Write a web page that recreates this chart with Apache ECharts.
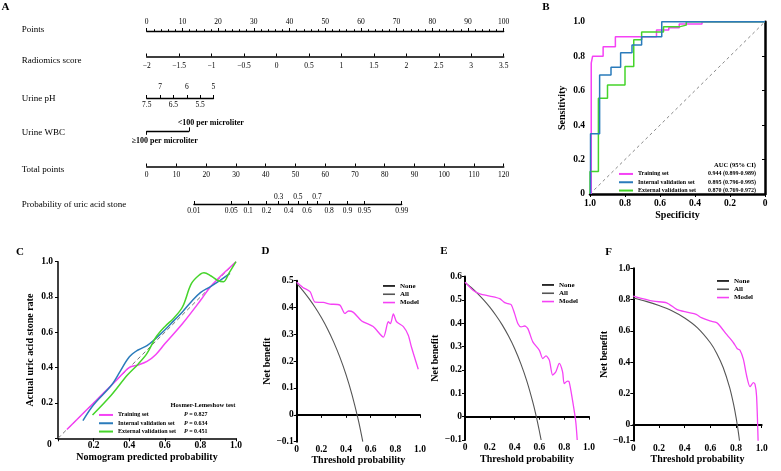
<!DOCTYPE html>
<html><head><meta charset="utf-8">
<script src="https://cdn.jsdelivr.net/npm/echarts@6/dist/echarts.min.js"></script>
<style>html,body{margin:0;padding:0;background:#fff}#c{width:781px;height:471px}</style>
</head><body><div id="c"></div>
<script>
// ---------- Panel A: nomogram ----------
const nomoRows = ['Points','Radiomics score','Urine pH','Urine WBC','Total points','Probability of uric acid stone'];
const pointsRange = [0, 100];
const radiomicsRange = [-2, 3.5];
const phValues = [7.5, 7, 6.5, 6, 5.5, 5];
const phTopLabels = [7, 6, 5];
const phBottomLabels = [7.5, 6.5, 5.5];
const phMaxPoints = 18.7;          // points given to pH 5
const wbcLevels = ['≥100 per microliter', '<100 per microliter'];
const wbcPoints = [0, 11.8];
const totalPointsRange = [0, 120];
const probTicks = [0.01,0.05,0.1,0.2,0.3,0.4,0.5,0.6,0.7,0.8,0.9,0.95,0.99];
const probTopLabels = [0.3,0.5,0.7];
const probIntercept = 50.8;        // total points where p = 0.5
const probSlope = 7.6;             // total points per logit unit

// ---------- Panel B: ROC ----------
const rocNames = ['Training set','Internal validation set','External validation set'];
const rocAUC = ['0.944 (0.899-0.989)','0.895 (0.796-0.995)','0.870 (0.769-0.972)'];
const rocTraining = [[0.993,0],[0.993,0.76],[0.985,0.76],[0.985,0.80],[0.925,0.80],[0.925,0.855],[0.855,0.855],[0.855,0.913],[0.62,0.913],[0.62,0.952],[0.55,0.952],[0.55,0.965],[0.49,0.965],[0.49,0.987],[0.36,0.987],[0.36,1],[0,1]];
const rocInternal = [[0.997,0],[0.997,0.35],[0.945,0.35],[0.945,0.69],[0.88,0.69],[0.88,0.735],[0.825,0.735],[0.825,0.82],[0.76,0.82],[0.76,0.865],[0.705,0.865],[0.705,0.913],[0.59,0.913],[0.59,1],[0,1]];
const rocExternal = [[1,0],[1,0.13],[0.952,0.13],[0.952,0.556],[0.90,0.556],[0.90,0.633],[0.80,0.633],[0.80,0.74],[0.75,0.74],[0.75,0.895],[0.705,0.895],[0.705,0.94],[0.58,0.94],[0.58,0.97],[0.49,0.97],[0.49,0.98],[0.45,0.98],[0.45,1],[0,1]];
const rocDiagonal = [[1,0],[0,1]];

// ---------- Panel C: calibration ----------
const calPValues = ['0.827','0.634','0.451'];
const calTraining = [[0.05,0.05],[0.15,0.15],[0.25,0.25],[0.33,0.33],[0.4,0.4],[0.45,0.415],[0.5,0.435],[0.55,0.475],[0.6,0.535],[0.7,0.65],[0.8,0.78],[0.85,0.85],[0.9,0.905],[1.0,1.0]];
const calInternal = [[0.14,0.1],[0.2,0.19],[0.3,0.3],[0.35,0.38],[0.4,0.46],[0.45,0.5],[0.5,0.525],[0.55,0.566],[0.6,0.613],[0.65,0.665],[0.7,0.717],[0.75,0.775],[0.8,0.825],[0.85,0.855],[0.9,0.887],[0.966,0.934]];
const calExternal = [[0.194,0.132],[0.3,0.245],[0.39,0.358],[0.45,0.42],[0.5,0.481],[0.55,0.572],[0.6,0.632],[0.65,0.68],[0.7,0.745],[0.75,0.877],[0.8,0.93],[0.82,0.938],[0.86,0.919],[0.9,0.892],[0.93,0.887],[0.96,0.934],[1.0,1.0]];
const calDiagonal = [[0,0],[1,1]];

// ---------- Panels D, E, F: decision curves ----------
const dcaNames = ['None','All','Model'];
const dcaNone = [[0,0],[1,0]];
const dcaDAll = [[0,0.49],[0.05,0.463],[0.1,0.433],[0.15,0.40],[0.2,0.3625],[0.25,0.32],[0.3,0.271],[0.35,0.215],[0.4,0.15],[0.45,0.073],[0.5,-0.02],[0.536,-0.1]];
const dcaDModel = [[0,0.494],[0.05,0.475],[0.108,0.459],[0.149,0.42],[0.216,0.419],[0.27,0.413],[0.35,0.409],[0.39,0.378],[0.42,0.387],[0.46,0.382],[0.527,0.35],[0.62,0.329],[0.703,0.29],[0.743,0.347],[0.76,0.34],[0.784,0.376],[0.81,0.347],[0.865,0.329],[0.905,0.297],[0.93,0.254],[0.986,0.17]];
const dcaEAll = [[0,0.575],[0.05,0.553],[0.1,0.528],[0.15,0.50],[0.2,0.469],[0.25,0.433],[0.3,0.393],[0.35,0.346],[0.4,0.292],[0.45,0.227],[0.5,0.15],[0.55,0.056],[0.575,0],[0.6,-0.0625],[0.614,-0.1]];
const dcaEModel = [[0,0.576],[0.067,0.54],[0.12,0.526],[0.2,0.516],[0.28,0.505],[0.32,0.488],[0.347,0.484],[0.373,0.479],[0.4,0.441],[0.427,0.398],[0.453,0.384],[0.48,0.388],[0.507,0.377],[0.547,0.32],[0.6,0.284],[0.627,0.249],[0.653,0.26],[0.68,0.242],[0.707,0.178],[0.733,0.192],[0.76,0.228],[0.787,0.192],[0.8,0.142],[0.827,0.152],[0.84,0.149],[0.867,0.071],[0.893,-0.021],[0.905,-0.1]];
const dcaFAll = [[0,0.81],[0.1,0.789],[0.2,0.7625],[0.3,0.729],[0.4,0.683],[0.5,0.62],[0.6,0.525],[0.65,0.457],[0.7,0.367],[0.75,0.24],[0.78,0.136],[0.8,0.05],[0.81,0],[0.82,-0.056],[0.827,-0.1]];
const dcaFModel = [[0,0.823],[0.156,0.79],[0.26,0.78],[0.338,0.738],[0.416,0.72],[0.49,0.706],[0.53,0.685],[0.597,0.664],[0.649,0.653],[0.675,0.632],[0.727,0.578],[0.78,0.525],[0.81,0.487],[0.83,0.479],[0.857,0.42],[0.883,0.313],[0.909,0.245],[0.935,0.27],[0.948,0.26],[0.96,0.185],[0.972,-0.1]];
const dcaDTicks = [-0.1,0,0.1,0.2,0.3,0.4,0.5];
const dcaETicks = [-0.1,0,0.1,0.2,0.3,0.4,0.5,0.6];
const dcaFTicks = [-0.1,0,0.2,0.4,0.6,0.8,1.0];

// ================= build =================
const FONT = 'Liberation Serif';
const C_MAG = '#f542f5', C_BLUE = '#2a7bbb', C_GREEN = '#45d42a', C_GRAY = '#555555';
const grids = [], xAxes = [], yAxes = [], series = [], legends = [], graphics = [];
function addGrid(g, hiddenY) {
  grids.push(g); const gi = grids.length - 1;
  if (hiddenY) yAxes.push({gridIndex: gi, type: 'value', show: false, min: 0, max: 1});
  return gi;
}
const logit = p => Math.log(p / (1 - p));
const tp = p => probIntercept + probSlope * logit(p);
const nearest = (arr, v, f) => { let b = 0; arr.forEach((a, i) => { if (Math.abs(f(a) - v) < Math.abs(f(arr[b]) - v)) b = i; }); return arr[b]; };
const minus = v => (v < 0 ? '−' : '') + Math.abs(v);
const fmt1 = v => Math.abs(v) < 1e-9 ? '0' : (v < 0 ? '−' : '') + Math.abs(v).toFixed(1);

const NL = 146.7, NW = 357;
const nLbl = {fontFamily: FONT, fontSize: 7.5, color: '#000'};
const nLine = {show: true, lineStyle: {color: '#000', width: 1.3}};
const tickStyle = {color: '#000', width: 1};
const noSplit = {show: false};

// Points
let gi = addGrid({left: NL, top: 30, width: NW * (pointsRange[1] - pointsRange[0]) / 100, height: 1}, true);
xAxes.push({gridIndex: gi, type: 'value', position: 'top', min: pointsRange[0], max: pointsRange[1], interval: 10,
  axisLine: nLine, axisTick: {show: true, length: 3, lineStyle: tickStyle},
  minorTick: {show: true, splitNumber: 5, length: 1.8, lineStyle: tickStyle},
  axisLabel: Object.assign({margin: 4}, nLbl), splitLine: noSplit, minorSplitLine: noSplit});
// Radiomics score
gi = addGrid({left: NL, top: 55.5, width: NW, height: 1}, true);
xAxes.push({gridIndex: gi, type: 'value', position: 'bottom', min: radiomicsRange[0], max: radiomicsRange[1], interval: 0.5,
  axisLine: {show: true, lineStyle: {color: '#000', width: 1.6}}, axisTick: {show: true, inside: true, length: 3, lineStyle: tickStyle},
  axisLabel: Object.assign({margin: 6, formatter: minus}, nLbl), splitLine: noSplit});
// Urine pH
gi = addGrid({left: NL, top: 97, width: NW * phMaxPoints / 100, height: 1}, true);
xAxes.push({gridIndex: gi, type: 'value', position: 'top', inverse: true, min: Math.min(...phValues), max: Math.max(...phValues),
  axisLine: nLine, axisTick: {show: true, length: 3, lineStyle: tickStyle, customValues: phValues},
  axisLabel: Object.assign({margin: 6, customValues: phTopLabels, formatter: v => String(v)}, nLbl), splitLine: noSplit});
xAxes.push({gridIndex: gi, type: 'value', position: 'bottom', inverse: true, min: Math.min(...phValues), max: Math.max(...phValues),
  axisLine: {show: false}, axisTick: {show: false},
  axisLabel: Object.assign({margin: 3, customValues: phBottomLabels, formatter: v => String(v)}, nLbl), splitLine: noSplit});
// Urine WBC
const wbcLbl = {fontFamily: FONT, fontSize: 8, fontWeight: 'bold', color: '#000'};
gi = addGrid({left: NL, top: 130.3, width: NW * wbcPoints[1] / 100, height: 1}, true);
xAxes.push({gridIndex: gi, type: 'value', position: 'top', min: wbcPoints[0], max: wbcPoints[1],
  axisLine: nLine, axisTick: {show: true, length: 4, lineStyle: tickStyle, customValues: [wbcPoints[1]]},
  axisLabel: Object.assign({margin: 3, customValues: [wbcPoints[1]], padding: [0, 0, 0, 44],
    formatter: v => wbcLevels[wbcPoints.indexOf(nearest(wbcPoints, v, a => a))]}, wbcLbl), splitLine: noSplit});
xAxes.push({gridIndex: gi, type: 'value', position: 'bottom', min: wbcPoints[0], max: wbcPoints[1],
  axisLine: {show: false}, axisTick: {show: true, length: 3.5, lineStyle: tickStyle, customValues: [wbcPoints[0]]},
  axisLabel: Object.assign({margin: 6, customValues: [wbcPoints[0]], padding: [0, 0, 0, 36],
    formatter: v => wbcLevels[wbcPoints.indexOf(nearest(wbcPoints, v, a => a))]}, wbcLbl), splitLine: noSplit});
// Total points
gi = addGrid({left: NL, top: 165.5, width: NW, height: 1}, true);
xAxes.push({gridIndex: gi, type: 'value', position: 'bottom', min: totalPointsRange[0], max: totalPointsRange[1], interval: 10,
  axisLine: {show: true, lineStyle: {color: '#000', width: 1.6}}, axisTick: {show: true, inside: true, length: 3, lineStyle: tickStyle},
  axisLabel: Object.assign({margin: 5}, nLbl), splitLine: noSplit});
// Probability
const pLo = probTicks[0], pHi = probTicks[probTicks.length - 1];
gi = addGrid({left: NL + NW * (tp(pLo) - totalPointsRange[0]) / (totalPointsRange[1] - totalPointsRange[0]),
  top: 203, width: NW * (tp(pHi) - tp(pLo)) / (totalPointsRange[1] - totalPointsRange[0]), height: 1}, true);
const probFmt = v => String(nearest(probTicks, v, logit));
xAxes.push({gridIndex: gi, type: 'value', position: 'top', min: logit(pLo), max: logit(pHi),
  axisLine: nLine, axisTick: {show: true, length: 3, lineStyle: tickStyle, customValues: probTicks.map(logit)},
  axisLabel: Object.assign({margin: 2, customValues: probTopLabels.map(logit), formatter: probFmt}, nLbl), splitLine: noSplit});
xAxes.push({gridIndex: gi, type: 'value', position: 'bottom', min: logit(pLo), max: logit(pHi),
  axisLine: {show: false}, axisTick: {show: false},
  axisLabel: Object.assign({margin: 3, customValues: probTicks.filter(p => probTopLabels.indexOf(p) < 0).map(logit), formatter: probFmt}, nLbl), splitLine: noSplit});

const rowY = [30, 61, 99, 133, 170, 205];
nomoRows.forEach((r, i) => graphics.push({type: 'text', x: 21.7, y: rowY[i],
  style: {text: r, fontFamily: FONT, fontSize: 9, fill: '#000', textAlign: 'left', align: 'left', textVerticalAlign: 'middle', verticalAlign: 'middle'}}));

// ---------- common panel axis helpers ----------
const aLbl = {fontFamily: FONT, fontSize: 9.5, fontWeight: 'bold', color: '#000'};
const aName = {fontFamily: FONT, fontSize: 10, fontWeight: 'bold', color: '#000'};
function xAx(gi, o) {
  return Object.assign({gridIndex: gi, type: 'value', min: 0, max: 1, interval: 0.2, nameLocation: 'middle',
    nameTextStyle: aName, splitLine: noSplit,
    axisLine: {show: true, lineStyle: {color: '#000', width: o.lw || 2}},
    axisTick: {show: true, length: 3, lineStyle: {color: '#000', width: 1}},
    axisLabel: Object.assign({formatter: fmt1, margin: o.lm || 3}, aLbl)}, o.extra || {});
}
function yAx(gi, o) {
  return Object.assign({gridIndex: gi, type: 'value', nameLocation: 'middle', nameRotate: 90,
    nameTextStyle: aName, splitLine: noSplit,
    axisLine: {show: true, lineStyle: {color: '#000', width: o.lw || 2}},
    axisTick: {show: true, length: 3, lineStyle: {color: '#000', width: 1}},
    axisLabel: Object.assign({formatter: fmt1, margin: o.lm || 3}, aLbl)}, o.extra || {});
}
function line(name, gi, data, color, width, extra) {
  series.push(Object.assign({type: 'line', name: name, xAxisIndex: xAxes.length - 1, yAxisIndex: yAxes.length - 1,
    data: data, symbol: 'none', lineStyle: {color: color, width: width}, itemStyle: {color: color}, animation: false}, extra || {}));
}
const legText = {fontFamily: FONT, fontSize: 6, fontWeight: 'bold', color: '#000', lineHeight: 8.3};

// ---------- Panel B ----------
gi = addGrid({left: 590, top: 21.7, width: 175, height: 172.3});
xAxes.push(xAx(gi, {lw: 2.5, lm: 5, extra: {inverse: true, name: 'Specificity', nameGap: 16}}));
yAxes.push(yAx(gi, {lw: 2.5, lm: 5, extra: {min: 0, max: 1, interval: 0.2, name: 'Sensitivity', nameGap: 23}}));
line('Reference', gi, rocDiagonal, '#888', 1, {lineStyle: {color: '#888', width: 1, type: [3, 3]}});
line(rocNames[0], gi, rocTraining, C_MAG, 1.5);
line(rocNames[2], gi, rocExternal, C_GREEN, 1.5);
line(rocNames[1], gi, rocInternal, C_BLUE, 1.5);
legends.push({data: rocNames, left: 619, top: 169.8, orient: 'vertical', icon: 'rect', itemWidth: 14, itemHeight: 2,
  itemGap: 0, padding: 0, selectedMode: false,
  textStyle: Object.assign({rich: {n: Object.assign({width: 70}, legText), v: Object.assign({}, legText)}}, legText),
  formatter: n => '{n|' + n + '}{v|' + rocAUC[rocNames.indexOf(n)] + '}'});
graphics.push({type: 'text', x: 735, y: 165, style: {text: 'AUC (95% CI)', fontFamily: FONT, fontSize: 6.5, fontWeight: 'bold', fill: '#000',
  textAlign: 'center', align: 'center', textVerticalAlign: 'middle', verticalAlign: 'middle'}});

// ---------- Panel C ----------
gi = addGrid({left: 58, top: 261.7, width: 178, height: 176.6});
xAxes.push(xAx(gi, {lw: 1.5, lm: 2, extra: {name: 'Nomogram predicted probability', nameGap: 14,
  axisLabel: Object.assign({margin: 2, formatter: v => Math.abs(v) < 1e-9 ? '' : fmt1(v)}, aLbl)}}));
yAxes.push(yAx(gi, {lw: 1.5, lm: 5, extra: {min: 0, max: 1, interval: 0.2, name: 'Actual uric acid stone rate', nameGap: 23,
  axisLabel: Object.assign({margin: 5, formatter: v => Math.abs(v) < 1e-9 ? '' : fmt1(v)}, aLbl)}}));
line('Ideal', gi, calDiagonal, '#777', 1, {lineStyle: {color: '#777', width: 1, type: [4, 3]}});
line(rocNames[0], gi, calTraining, C_MAG, 1.5, {smooth: 0.35});
line(rocNames[1], gi, calInternal, C_BLUE, 1.5, {smooth: 0.35});
line(rocNames[2], gi, calExternal, C_GREEN, 1.5, {smooth: 0.35});
legends.push({data: rocNames, left: 99, top: 410.8, orient: 'vertical', icon: 'rect', itemWidth: 14, itemHeight: 2,
  itemGap: 0, padding: 0, selectedMode: false,
  textStyle: Object.assign({rich: {n: Object.assign({width: 66}, legText), i: Object.assign({}, legText, {fontStyle: 'italic'}), v: Object.assign({}, legText)}}, legText),
  formatter: n => '{n|' + n + '}{i|P}{v| = ' + calPValues[rocNames.indexOf(n)] + '}'});
graphics.push({type: 'text', x: 203, y: 405, style: {text: 'Hosmer-Lemeshow test', fontFamily: FONT, fontSize: 6.5, fontWeight: 'bold', fill: '#000',
  textAlign: 'center', align: 'center', textVerticalAlign: 'middle', verticalAlign: 'middle'}});
graphics.push({type: 'text', x: 49.3, y: 444.3, style: {text: '0', fontFamily: FONT, fontSize: 9.5, fontWeight: 'bold', fill: '#000',
  textAlign: 'center', align: 'center', textVerticalAlign: 'middle', verticalAlign: 'middle'}});

// ---------- Panels D, E, F ----------
function dca(rect, ticks, allData, modelData, legPos) {
  const g = addGrid(rect);
  xAxes.push(xAx(g, {lw: 2, lm: 3, extra: {name: 'Threshold probability', nameGap: 14}}));
  yAxes.push(yAx(g, {lw: 2, lm: 3, extra: {min: ticks[0], max: ticks[ticks.length - 1], name: 'Net benefit', nameGap: 17,
    axisTick: {show: true, length: 3, lineStyle: {color: '#000', width: 1}, customValues: ticks},
    axisLabel: Object.assign({formatter: fmt1, margin: 3, customValues: ticks}, aLbl)}}));
  line(dcaNames[0], g, dcaNone, '#000', 1.5);
  line(dcaNames[1], g, allData, C_GRAY, 1.1, {smooth: 0.3});
  line(dcaNames[2], g, modelData, C_MAG, 1.3, {smooth: 0.25});
  legends.push({data: dcaNames, left: legPos[0], top: legPos[1], orient: 'vertical', icon: 'rect', itemWidth: 12, itemHeight: 1.6,
    itemGap: 0, padding: 0, selectedMode: false, textStyle: Object.assign({}, legText, {fontSize: 7})});
}
dca({left: 296.7, top: 280.7, width: 123.3, height: 161}, dcaDTicks, dcaDAll, dcaDModel, [383, 281.8]);
dca({left: 465, top: 276.5, width: 124, height: 163.5}, dcaETicks, dcaEAll, dcaEModel, [542, 280.8]);
dca({left: 633.3, top: 268.3, width: 128.4, height: 172.4}, dcaFTicks, dcaFAll, dcaFModel, [717, 276.8]);

// panel letters
[['A', 5.5, 7], ['B', 546, 7.3], ['C', 20, 252], ['D', 265.5, 251], ['E', 444, 251], ['F', 608.5, 252]].forEach(l =>
  graphics.push({type: 'text', x: l[1], y: l[2], style: {text: l[0], fontFamily: FONT, fontSize: 11, fontWeight: 'bold', fill: '#000',
    textAlign: 'center', align: 'center', textVerticalAlign: 'middle', verticalAlign: 'middle'}}));

const chart = echarts.init(document.getElementById('c'));
chart.setOption({
  animation: false, backgroundColor: '#fff',
  grid: grids, xAxis: xAxes, yAxis: yAxes, series: series, legend: legends, graphic: graphics
});
</script></body></html>
